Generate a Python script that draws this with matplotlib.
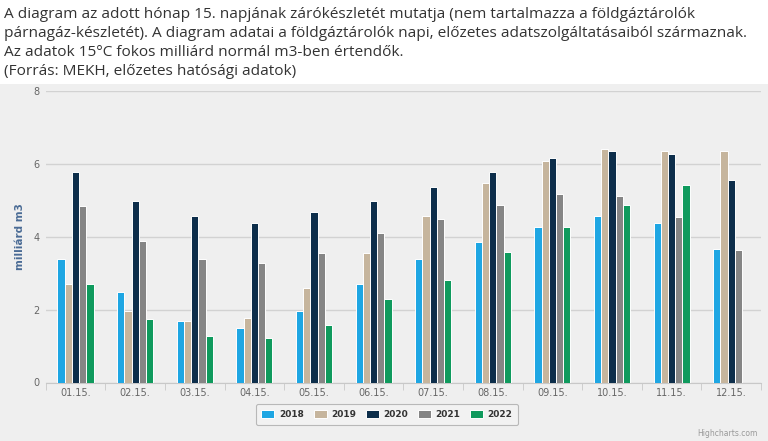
import matplotlib
matplotlib.use("Agg")
import matplotlib.pyplot as plt
from matplotlib.patches import Rectangle
import numpy as np

categories = ["01.15.", "02.15.", "03.15.", "04.15.", "05.15.", "06.15.",
              "07.15.", "08.15.", "09.15.", "10.15.", "11.15.", "12.15."]
years = ["2018", "2019", "2020", "2021", "2022"]
v2018 = [3.40, 2.49, 1.68, 1.49, 1.97, 2.69, 3.38, 3.86, 4.28, 4.58, 4.38, 3.67]
v2019 = [2.70, 1.96, 1.68, 1.77, 2.59, 3.56, 4.58, 5.47, 6.08, 6.42, 6.36, 6.36]
v2020 = [5.79, 4.98, 4.58, 4.39, 4.68, 4.98, 5.37, 5.78, 6.17, 6.36, 6.27, 5.57]
v2021 = [4.84, 3.87, 3.38, 3.28, 3.56, 4.09, 4.48, 4.88, 5.17, 5.12, 4.54, 3.65]
v2022 = [2.70, 1.73, 1.27, 1.21, 1.58, 2.28, 2.82, 3.59, 4.28, 4.87, 5.41, None]
series = [v2018, v2019, v2020, v2021, v2022]
colors = ["#1ea6e3", "#c6b59d", "#0d2e4b", "#858585", "#0f9a5d"]
yticks = [0, 2, 4, 6, 8]

title_lines = [
    "A diagram az adott hónap 15. napjának zárókészletét mutatja (nem tartalmazza a földgáztárolók",
    "párnagáz-készletét). A diagram adatai a földgáztárolók napi, előzetes adatszolgáltatásaiból származnak.",
    "Az adatok 15°C fokos milliárd normál m3-ben értendők.",
    "(Forrás: MEKH, előzetes hatósági adatok)",
]

W, H = 768, 441
fig = plt.figure(figsize=(W / 100, H / 100), dpi=100)
fig.patch.set_facecolor("white")

# chart background panel
bg = Rectangle((0, 0), 1, 1 - 84 / H, transform=fig.transFigure,
               facecolor="#efefef", edgecolor="none", zorder=-10)
fig.add_artist(bg)

for k, line in enumerate(title_lines):
    fig.text(4 / W, 1 - (14 + 19.2 * k) / H, line, ha="left", va="center",
             fontsize=11.1, family="Open Sans", color="#333333")

left, right, bottom, top = 45.7, 761, 382.5, 91
ax = fig.add_axes([left / W, 1 - bottom / H, (right - left) / W, (bottom - top) / H])
ax.set_facecolor("none")
ax.set_zorder(1)

x = np.arange(len(categories))
bw = 0.121
for i, (vals, col, yr) in enumerate(zip(series, colors, years)):
    xs = [xi + (i - 2) * bw for xi, v in zip(x, vals) if v is not None]
    vs = [v for v in vals if v is not None]
    ax.bar(xs, vs, width=bw, color=col, edgecolor="white", linewidth=0.7,
           label=yr, zorder=3)

ax.set_xlim(-0.5, len(categories) - 0.5)
ax.set_ylim(0, 8)
ax.set_yticks(yticks)
ax.set_yticklabels([str(t) for t in yticks], fontsize=7, color="#666666")
ax.grid(axis="y", color="#d2d2d2", linewidth=1, zorder=0)
ax.set_axisbelow(True)
for s in ["top", "right", "left"]:
    ax.spines[s].set_visible(False)
ax.spines["bottom"].set_color("#c8c8c8")
ax.tick_params(axis="y", length=0, pad=4.3)
ax.set_xticks(x)
ax.set_xticklabels(categories, fontsize=7, color="#666666")
ax.tick_params(axis="x", length=0, pad=4)
ax.set_xticks(np.arange(len(categories) + 1) - 0.5, minor=True)
ax.tick_params(axis="x", which="minor", length=5, color="#c8c8c8")
ax.set_ylabel("milliárd m3", fontsize=7.5, color="#4a6b95", fontweight="bold", labelpad=6)

leg = ax.legend(loc="center", bbox_to_anchor=(((387 - left) / (right - left)), -(414.5 - bottom) / (bottom - top)),
                ncol=5, frameon=True, fontsize=6.5, handlelength=1.45, handleheight=1.1,
                columnspacing=1.05, handletextpad=0.52, borderpad=0.6, fancybox=True)
leg.get_frame().set_edgecolor("#aaaaaa")
leg.get_frame().set_facecolor("#f3f3f3")
leg.get_frame().set_linewidth(0.8)
for t in leg.get_texts():
    t.set_fontweight("bold")
    t.set_color("#333333")

fig.text(758 / W, 1 - 433 / H, "Highcharts.com", ha="right", va="center",
         fontsize=5.5, color="#999999")

fig.savefig("out.png", dpi=100)
